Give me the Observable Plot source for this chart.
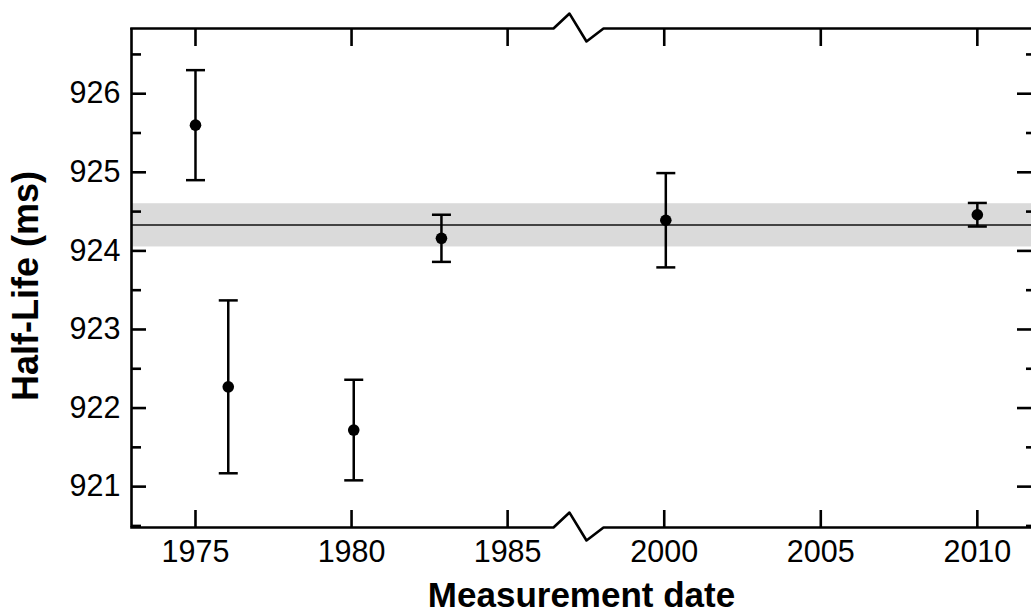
<!DOCTYPE html>
<html><head><meta charset="utf-8">
<script src="https://cdn.jsdelivr.net/npm/d3@7"></script>
<script src="https://cdn.jsdelivr.net/npm/@observablehq/plot@0.6"></script>
<style>
  html,body{margin:0;padding:0;background:#fff;}
  #chart svg{display:block;}
</style>
</head><body><div id="chart"></div>
<script>
// ---- data ----
const years       = [1975.0, 1976.05, 1980.07, 1982.88, 2000.05, 2010.0];
const halfLife    = [925.60, 922.27, 921.72, 924.16, 924.39, 924.46];
const uncertainty = [0.70, 1.10, 0.64, 0.30, 0.60, 0.15];

const meanValue = 924.33;
const meanLow   = 924.05;
const meanHigh  = 924.60;

const xTicks      = [1975, 1980, 1985, 2000, 2005, 2010];
const yTicks      = [921, 922, 923, 924, 925, 926];
const yMinorTicks = [920.5, 921.5, 922.5, 923.5, 924.5, 925.5, 926.5];

// broken x axis: [start, break begins, break ends, end]
const xDomain = [1972.95, 1986.47, 1998.06, 2011.73];
const yDomain = [920.48, 926.83];

const xLabel = "Measurement date";
const yLabel = "Half-Life (ms)";

// ---- layout ----
const W = 1031, H = 613;
const mL = 131, mR = 0, mT = 28, mB = 86;
const plotW = W - mL - mR, plotH = H - mT - mB;
const xRange = [mL, 553, 603, W - mR];

const points = years.map((y, i) => ({year: y, value: halfLife[i], err: uncertainty[i]}));

// zigzag break drawn on top and bottom frame lines (in data space)
const b0 = xDomain[1], b1 = xDomain[2];
const zigX = [xDomain[0], b0, b0 + 0.32 * (b1 - b0), b0 + 0.66 * (b1 - b0), b1, xDomain[3]];
const zigDY = [0, 0, 0.19, -0.165, 0, 0];
const bottomFrame = zigX.map((x, i) => ({x, y: yDomain[0] + zigDY[i]}));
const topFrame = zigX.map((x, i) => ({x, y: yDomain[1] + zigDY[i]}));

const capSymbol = {draw(ctx) { ctx.moveTo(-9.5, 0); ctx.lineTo(9.5, 0); }};

const font = "'Liberation Sans', Arial, Helvetica, sans-serif";
const SW = 2.6;

const chart = Plot.plot({
  width: W, height: H,
  marginLeft: mL, marginRight: mR, marginTop: mT, marginBottom: mB,
  style: {fontFamily: font, background: "#fff", color: "#000", overflow: "visible"},
  x: {type: "linear", domain: xDomain, range: xRange},
  y: {type: "linear", domain: yDomain},
  marks: [
    // uncertainty band of the mean
    Plot.rect([0], {y1: () => meanLow, y2: () => meanHigh, fill: "#dadada"}),
    Plot.ruleY([meanValue], {stroke: "#111", strokeWidth: 1.6}),

    // frame
    Plot.ruleX([xDomain[0]], {stroke: "#000", strokeWidth: SW}),
    Plot.line(bottomFrame, {x: "x", y: "y", stroke: "#000", strokeWidth: SW, strokeLinecap: "square"}),
    Plot.line(topFrame, {x: "x", y: "y", stroke: "#000", strokeWidth: SW, strokeLinecap: "square"}),

    // inward ticks
    Plot.tickX(xTicks, {x: d => d, insetTop: plotH - 17, stroke: "#000", strokeWidth: SW}),
    Plot.tickX(xTicks, {x: d => d, insetBottom: plotH - 18, stroke: "#000", strokeWidth: SW}),
    Plot.tickY(yTicks, {y: d => d, insetRight: plotW - 15, stroke: "#000", strokeWidth: SW}),
    Plot.tickY(yMinorTicks, {y: d => d, insetRight: plotW - 10, stroke: "#000", strokeWidth: SW}),
    Plot.tickY(yTicks, {y: d => d, insetLeft: plotW - 14, stroke: "#000", strokeWidth: SW}),
    Plot.tickY(yMinorTicks, {y: d => d, insetLeft: plotW - 5, stroke: "#000", strokeWidth: SW}),

    // tick labels
    Plot.axisX(xTicks, {anchor: "bottom", tickSize: 0, tickPadding: 13, fontSize: 30.5, label: null, tickFormat: d => String(d)}),
    Plot.axisY(yTicks, {anchor: "left", tickSize: 0, tickPadding: 11, fontSize: 30.5, label: null, tickFormat: d => String(d)}),

    // error bars
    Plot.ruleX(points, {x: "year", y1: d => d.value - d.err, y2: d => d.value + d.err, stroke: "#000", strokeWidth: 2.5}),
    Plot.dot(points, {x: "year", y: d => d.value - d.err, symbol: capSymbol, stroke: "#000", strokeWidth: 2.5, fill: "none"}),
    Plot.dot(points, {x: "year", y: d => d.value + d.err, symbol: capSymbol, stroke: "#000", strokeWidth: 2.5, fill: "none"}),
    Plot.dot(points, {x: "year", y: "value", r: 5.8, fill: "#000", stroke: "none"}),

    // axis titles
    Plot.text([xLabel], {text: d => d, frameAnchor: "bottom", textAnchor: "middle", lineAnchor: "middle", dy: 68, fontSize: 35, fontWeight: "bold", fill: "#000"}),
    Plot.text([yLabel], {text: d => d, frameAnchor: "left", textAnchor: "middle", lineAnchor: "middle", rotate: -90, dx: -105.5, dy: 8, fontSize: 36, fontWeight: "bold", fill: "#000"})
  ]
});
document.getElementById("chart").append(chart);
</script>
</body></html>
